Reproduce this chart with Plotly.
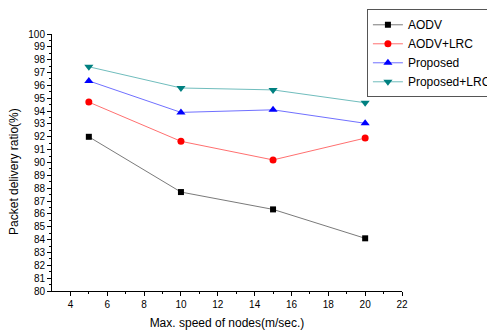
import plotly.graph_objects as go

speed = [5, 10, 15, 20]
aodv = [92.0, 87.7, 86.35, 84.1]
aodv_lrc = [94.7, 91.65, 90.2, 91.9]
proposed = [96.35, 93.9, 94.1, 93.05]
proposed_lrc = [97.45, 95.8, 95.65, 94.65]

series = [
    ("AODV", aodv, "#7a7a7a", "#000000", "square", 6),
    ("AODV+LRC", aodv_lrc, "#ff7070", "#ff0000", "circle", 7),
    ("Proposed", proposed, "#7070ff", "#0000ff", "triangle-up", 8),
    ("Proposed+LRC", proposed_lrc, "#70bdbd", "#008080", "triangle-down", 8),
]

fig = go.Figure()
for name, vals, lc, mc, sym, sz in series:
    fig.add_trace(go.Scatter(
        x=speed, y=vals, name=name, mode="lines+markers",
        line=dict(color=lc, width=1),
        marker=dict(color=mc, symbol=sym, size=sz, line=dict(width=0)),
    ))

font = "Liberation Sans, Arial, sans-serif"
# page body has an 8px margin, so the figure is 487x324
fig.update_layout(
    width=487, height=324,
    margin=dict(l=44, r=93, t=26, b=41, autoexpand=False),
    paper_bgcolor="white", plot_bgcolor="white",
    font=dict(family=font, color="black", size=10),
    showlegend=True,
    legend=dict(
        xref="container", yref="container",
        x=0.737, y=0.996, xanchor="left", yanchor="top",
        bordercolor="#555555", borderwidth=1, bgcolor="white",
        font=dict(size=12, family=font), tracegroupgap=0,
        itemwidth=30,
    ),
    xaxis=dict(
        range=[3, 22], tickmode="array", tickvals=[4, 6, 8, 10, 12, 14, 16, 18, 20, 22],
        showline=True, linecolor="black", linewidth=1, mirror=False,
        ticks="outside", ticklen=4, tickcolor="black", showgrid=False, zeroline=False,
        minor=dict(tickvals=[5, 7, 9, 11, 13, 15, 17, 19, 21], ticks="outside", ticklen=2, tickcolor="black"),
        tickfont=dict(size=10),
        title=dict(text="Max. speed of nodes(m/sec.)", font=dict(size=12), standoff=9),
    ),
    yaxis=dict(
        range=[80, 100], tickmode="linear", tick0=80, dtick=1,
        showline=True, linecolor="black", linewidth=1, mirror=False,
        ticks="outside", ticklen=4, tickcolor="black", showgrid=False, zeroline=False,
        minor=dict(dtick=0.5, ticks="outside", ticklen=2, tickcolor="black"),
        tickfont=dict(size=10),
    ),
    annotations=[dict(
        text="Packet delivery ratio(%)", textangle=-90,
        xref="paper", yref="paper", x=-0.108, y=0.464,
        xanchor="center", yanchor="middle", showarrow=False,
        font=dict(size=12, family=font),
    )],
)

fig.write_html("out.html")
